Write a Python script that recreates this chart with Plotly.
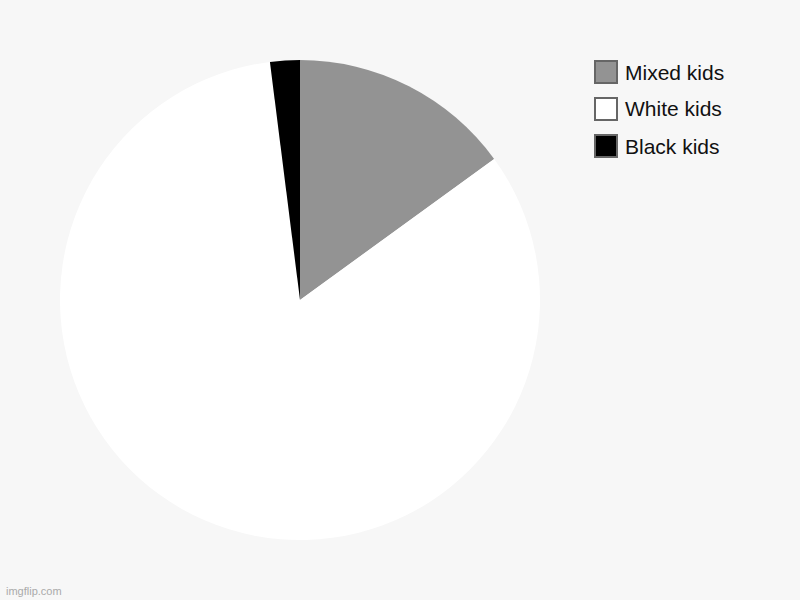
import plotly.graph_objects as go

categories = ["Mixed kids", "White kids", "Black kids"]
values = [15, 83, 2]
colors = ["#939393", "#ffffff", "#000000"]

W, H = 800, 600
fig = go.Figure()
fig.add_trace(go.Pie(
    labels=categories, values=values, sort=False, direction="clockwise",
    marker=dict(colors=colors, line=dict(width=0)),
    textinfo="none", showlegend=False,
    domain=dict(x=[60 / W, 540 / W], y=[60 / H, 540 / H]),
))

shapes = []
annotations = []
for i, (cat, col) in enumerate(zip(categories, colors)):
    top = 60 + i * 37
    shapes.append(dict(type="rect", xref="paper", yref="paper",
                       x0=595 / W, x1=617 / W, y0=1 - (top + 23) / H, y1=1 - (top + 1) / H,
                       fillcolor=col, line=dict(color="#666666", width=2)))
    annotations.append(dict(text=cat, xref="paper", yref="paper", x=623 / W, y=1 - (top + 12) / H,
                            xanchor="left", yanchor="middle", showarrow=False,
                            font=dict(family="Liberation Sans, Arial", size=21, color="#111111")))

annotations.append(dict(text="imgflip.com", xref="paper", yref="paper", x=4 / W, y=1 - 591 / H,
                        xanchor="left", yanchor="middle", showarrow=False,
                        font=dict(family="Liberation Sans, Arial", size=11, color="#aaaaaa")))

fig.update_layout(width=W, height=H, margin=dict(l=0, r=0, t=0, b=0),
                  paper_bgcolor="#f7f7f7", plot_bgcolor="#f7f7f7",
                  shapes=shapes, annotations=annotations)
fig.write_html("out.html", config={"displayModeBar": False},
               post_script="document.body.style.margin='0';document.body.style.background='#f7f7f7';document.body.style.overflow='hidden';")
